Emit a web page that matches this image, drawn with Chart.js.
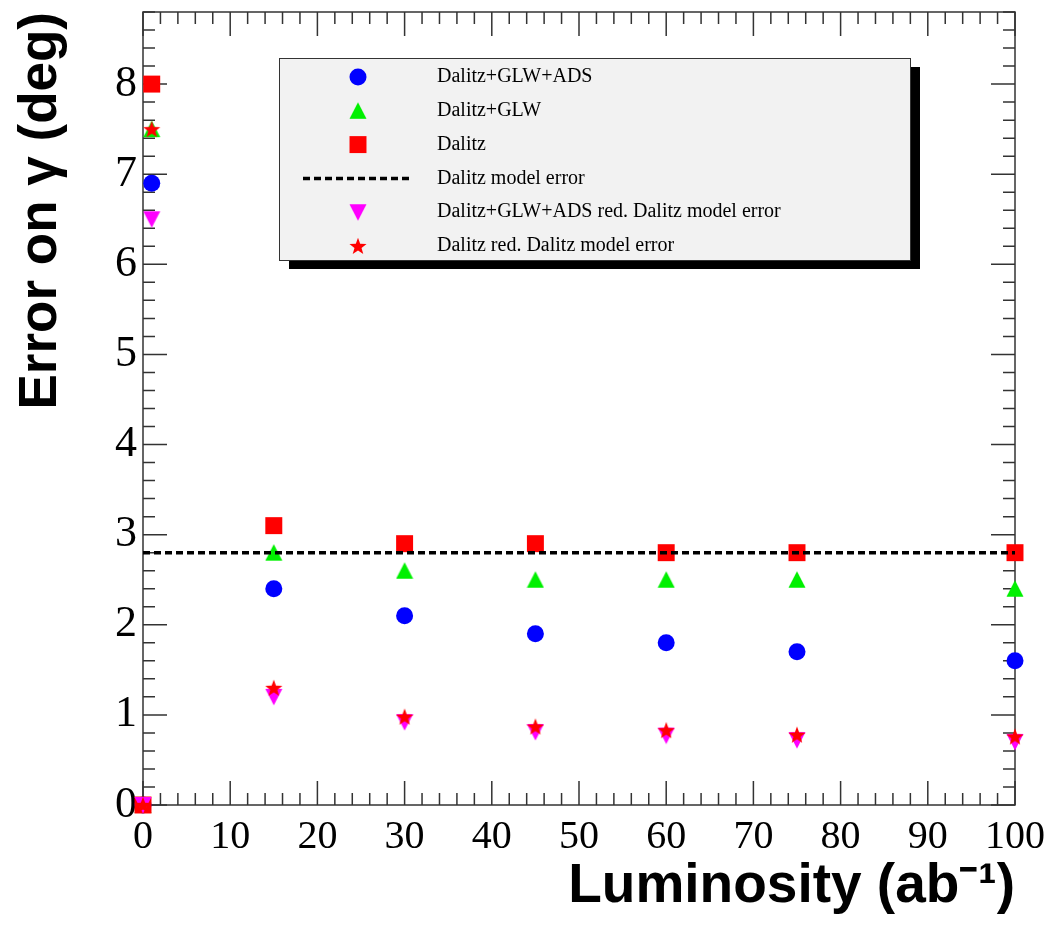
<!DOCTYPE html>
<html>
<head>
<meta charset="utf-8">
<script src="https://cdn.jsdelivr.net/npm/chart.js@4.4.0/dist/chart.umd.min.js"></script>
<style>
  html, body { margin: 0; padding: 0; background: #fff; }
  #wrap { width: 1055px; height: 940px; }
</style>
</head>
<body>
<div id="wrap"><canvas id="c" width="1055" height="940"></canvas></div>
<script>
// data
const luminosity = [0, 1, 15, 30, 45, 60, 75, 100];
const dalitzGlwAds = [0, 6.9, 2.4, 2.1, 1.9, 1.8, 1.7, 1.6];
const dalitzGlw = [0, 7.5, 2.8, 2.6, 2.5, 2.5, 2.5, 2.4];
const dalitz = [0, 8.0, 3.1, 2.9, 2.9, 2.8, 2.8, 2.8];
const glwAdsReduced = [0, 6.5, 1.2, 0.92, 0.81, 0.77, 0.72, 0.7];
const dalitzReduced = [0, 7.5, 1.3, 0.98, 0.87, 0.83, 0.78, 0.76];
const modelErrorX = [0, 100];
const modelError = [2.8, 2.8];

const xTicks = [0, 10, 20, 30, 40, 50, 60, 70, 80, 90, 100];
const yTicks = [0, 1, 2, 3, 4, 5, 6, 7, 8];

const pts = (xs, ys) => xs.map((x, i) => ({ x: x, y: ys[i] }));

// ROOT-like markers
function marker(color, path) {
  const c = document.createElement('canvas');
  c.width = 18; c.height = 18;
  const g = c.getContext('2d');
  g.fillStyle = color;
  g.beginPath();
  path(g);
  g.closePath();
  g.fill();
  return c;
}
const triUp = marker('#00f000', g => { g.moveTo(9, 0.5); g.lineTo(17.5, 17); g.lineTo(0.5, 17); });
const triDown = marker('#ff00ff', g => { g.moveTo(0.5, 1); g.lineTo(17.5, 1); g.lineTo(9, 17.5); });
const star = marker('#ff0000', g => {
  for (let i = 0; i < 10; i++) {
    const r = i % 2 ? 3.7 : 9;
    const a = -Math.PI / 2 + i * Math.PI / 5;
    const px = 9 + r * Math.cos(a), py = 9.8 + r * Math.sin(a);
    if (i === 0) g.moveTo(px, py); else g.lineTo(px, py);
  }
});

const serif = "'Liberation Serif', 'Times New Roman', serif";
const sans = "'Liberation Sans', Arial, sans-serif";

// frame + inside ticks on all four sides
const frameTicks = {
  id: 'frameTicks',
  beforeDatasetsDraw(chart) {
    const { ctx, chartArea: a, scales: { x, y } } = chart;
    ctx.save();
    ctx.strokeStyle = '#333';
    ctx.lineWidth = 1.5;
    ctx.strokeRect(a.left, a.top, a.right - a.left, a.bottom - a.top);
    ctx.beginPath();
    for (let v = 0; v <= 100.001; v += 2) {
      const px = x.getPixelForValue(v);
      const len = Math.abs(v % 10) < 0.01 ? 24 : 12;
      ctx.moveTo(px, a.bottom); ctx.lineTo(px, a.bottom - len);
      ctx.moveTo(px, a.top); ctx.lineTo(px, a.top + len);
    }
    for (let i = 0; i <= 44; i++) {
      const v = i * 0.2;
      const py = y.getPixelForValue(v);
      const len = i % 5 === 0 ? 24 : 12;
      ctx.moveTo(a.left, py); ctx.lineTo(a.left + len, py);
      ctx.moveTo(a.right, py); ctx.lineTo(a.right - len, py);
    }
    ctx.stroke();
    ctx.restore();
  }
};

// legend box with shadow, drawn from the dataset styles
const boxLegend = {
  id: 'boxLegend',
  afterDraw(chart) {
    const { ctx } = chart;
    const bx = 279, by = 58, bw = 631, bh = 202;
    ctx.save();
    ctx.fillStyle = '#000';
    ctx.fillRect(bx + 10, by + 9, bw, bh);
    ctx.fillStyle = '#f2f2f2';
    ctx.fillRect(bx, by, bw, bh);
    ctx.strokeStyle = '#333';
    ctx.lineWidth = 1;
    ctx.strokeRect(bx + 0.5, by + 0.5, bw, bh);
    chart.data.datasets.forEach((ds, row) => {
      const cy = 77 + row * 33.8;
      if (ds.showLine) {
        ctx.save();
        ctx.strokeStyle = ds.borderColor;
        ctx.lineWidth = ds.borderWidth;
        ctx.setLineDash(ds.borderDash);
        ctx.beginPath();
        ctx.moveTo(303, cy); ctx.lineTo(410, cy);
        ctx.stroke();
        ctx.restore();
      } else {
        const st = ds.pointStyle;
        if (typeof st === 'object') {
          ctx.drawImage(st, 358 - st.width / 2, cy - st.height / 2);
        } else {
          ctx.fillStyle = ds.backgroundColor;
          ctx.beginPath();
          if (st === 'rect') {
            const s = ds.pointRadius * Math.SQRT1_2;
            ctx.rect(358 - s, cy - s, 2 * s, 2 * s);
          } else {
            ctx.arc(358, cy, ds.pointRadius, 0, Math.PI * 2);
          }
          ctx.fill();
        }
      }
      ctx.fillStyle = '#000';
      ctx.font = '20px ' + serif;
      ctx.textBaseline = 'middle';
      ctx.textAlign = 'left';
      ctx.fillText(ds.label, 437, cy);
    });
    ctx.restore();
  }
};

new Chart(document.getElementById('c'), {
  type: 'scatter',
  data: {
    datasets: [
      { label: 'Dalitz+GLW+ADS', data: pts(luminosity, dalitzGlwAds), pointStyle: 'circle',
        pointRadius: 8.5, backgroundColor: '#0000ff', borderWidth: 0, order: 5 },
      { label: 'Dalitz+GLW', data: pts(luminosity, dalitzGlw), pointStyle: triUp,
        pointRadius: 9, backgroundColor: '#00f000', borderWidth: 0, order: 4 },
      { label: 'Dalitz', data: pts(luminosity, dalitz), pointStyle: 'rect',
        pointRadius: 12, backgroundColor: '#ff0000', borderWidth: 0, order: 3 },
      { label: 'Dalitz model error', data: pts(modelErrorX, modelError), showLine: true,
        borderColor: '#000', borderWidth: 3.5, borderDash: [7, 4], pointRadius: 0, order: 0 },
      { label: 'Dalitz+GLW+ADS red. Dalitz model error', data: pts(luminosity, glwAdsReduced),
        pointStyle: triDown, pointRadius: 9, backgroundColor: '#ff00ff', borderWidth: 0, order: 2 },
      { label: 'Dalitz red. Dalitz model error', data: pts(luminosity, dalitzReduced),
        pointStyle: star, pointRadius: 9, backgroundColor: '#ff0000', borderWidth: 0, order: 1 }
    ]
  },
  options: {
    responsive: false,
    animation: false,
    devicePixelRatio: 1,
    clip: false,
    layout: { padding: { left: 0, right: 40, top: 5, bottom: 0 } },
    plugins: { legend: { display: false }, tooltip: { enabled: false } },
    elements: { point: { hoverRadius: 0 } },
    scales: {
      x: {
        type: 'linear', min: 0, max: 100,
        grid: { display: false, drawTicks: false },
        border: { display: false },
        afterBuildTicks: s => { s.ticks = xTicks.map(v => ({ value: v })); },
        afterFit: s => { s.height = 135; s.paddingLeft = 0; s.paddingRight = 0; },
        ticks: { autoSkip: false, maxRotation: 0, padding: 8, color: '#000',
          font: { family: serif, size: 40 } },
        title: { display: true, text: 'Luminosity (ab⁻¹)', align: 'end', color: '#000',
          padding: { top: 0, bottom: 20 }, font: { family: sans, size: 55, weight: 'bold' } }
      },
      y: {
        type: 'linear', min: 0, max: 8.8,
        grid: { display: false, drawTicks: false },
        border: { display: false },
        afterBuildTicks: s => { s.ticks = yTicks.map(v => ({ value: v })); },
        afterFit: s => { s.width = 143; s.paddingTop = 0; s.paddingBottom = 0; },
        ticks: { autoSkip: false, padding: 6, color: '#000',
          font: { family: serif, size: 44 } },
        title: { display: true, text: 'Error on γ (deg)', align: 'end', color: '#000',
          padding: { top: 10, bottom: 0 }, font: { family: sans, size: 53, weight: 'bold' } }
      }
    }
  },
  plugins: [frameTicks, boxLegend]
});
</script>
</body>
</html>
